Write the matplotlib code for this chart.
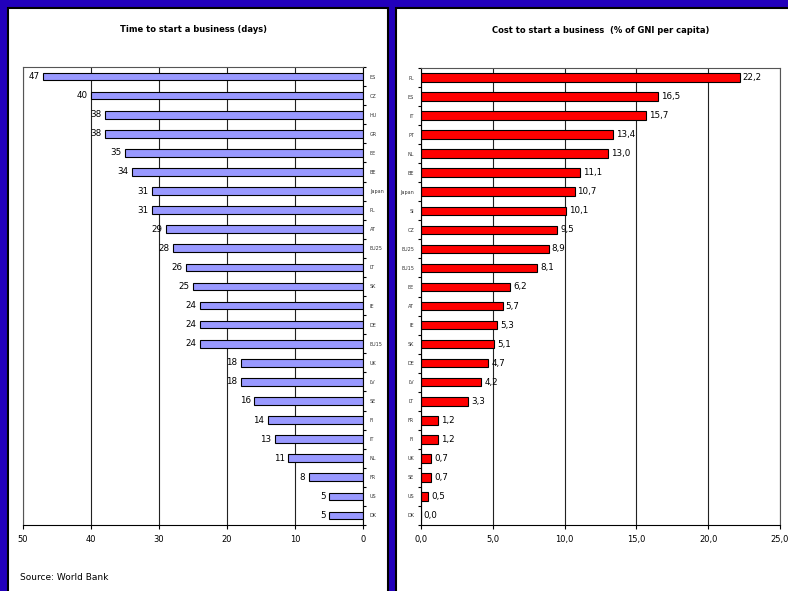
import matplotlib
matplotlib.use('agg')

import matplotlib.pyplot as plt
import numpy as np
from matplotlib.patches import Rectangle

# Days needed to start a business, top to bottom
time_countries = ['ES', 'CZ', 'HU', 'GR', 'EE', 'BE', 'Japan', 'PL', 'AT', 'EU25',
                  'LT', 'SK', 'IE', 'DE', 'EU15', 'UK', 'LV', 'SE', 'FI', 'IT',
                  'NL', 'FR', 'US', 'DK']
time_days = [47, 40, 38, 38, 35, 34, 31, 31, 29, 28,
             26, 25, 24, 24, 24, 18, 18, 16, 14, 13,
             11, 8, 5, 5]

# Cost to start a business, % of GNI per capita, top to bottom
cost_countries = ['PL', 'ES', 'IT', 'PT', 'NL', 'BE', 'Japan', 'SI', 'CZ', 'EU25',
                  'EU15', 'EE', 'AT', 'IE', 'SK', 'DE', 'LV', 'LT', 'FR', 'FI',
                  'UK', 'SE', 'US', 'DK']
cost_pct = [22.2, 16.5, 15.7, 13.4, 13.0, 11.1, 10.7, 10.1, 9.5, 8.9,
            8.1, 6.2, 5.7, 5.3, 5.1, 4.7, 4.2, 3.3, 1.2, 1.2,
            0.7, 0.7, 0.5, 0.0]

time_ticks = [50, 40, 30, 20, 10, 0]
cost_ticks = [0, 5, 10, 15, 20, 25]

W, H = 788, 591
fig = plt.figure(figsize=(W / 100, H / 100), dpi=100)
fig.patch.set_facecolor('#2200bb')

# white panels behind each chart
fig.add_artist(Rectangle((8 / W, -0.05), 380 / W, 1 - 8 / H + 0.05,
                         transform=fig.transFigure, facecolor='white',
                         edgecolor='black', linewidth=1.5, zorder=0))
fig.add_artist(Rectangle((396 / W, -0.05), 400 / W, 1 - 8 / H + 0.05,
                         transform=fig.transFigure, facecolor='white',
                         edgecolor='black', linewidth=1.5, zorder=0))

ax_top = 1 - 67 / H
ax_bot = 1 - 525 / H


def style_axes(ax):
    for s in ax.spines.values():
        s.set_color('#555555')
        s.set_linewidth(0.8)
    ax.tick_params(axis='x', length=3, width=0.8, labelsize=6, pad=4, colors='black')
    ax.tick_params(axis='y', which='major', length=0, labelsize=3.5, colors='#333333')
    ax.tick_params(axis='y', which='minor', length=2.5, width=0.8)
    ax.xaxis.grid(True, color='#222222', linewidth=0.8)
    ax.set_axisbelow(True)


n = len(time_countries)
y = np.arange(n)

# --- left chart: time to start ---
ax1 = fig.add_axes([23 / W, ax_bot, 340 / W, ax_top - ax_bot])
ax1.set_facecolor('none')
ax1.barh(y, time_days, height=0.4, color='#9999ff', edgecolor='black', linewidth=0.8)
ax1.set_xlim(50, 0)
ax1.set_ylim(n - 0.5, -0.5)
ax1.set_xticks(time_ticks)
ax1.set_xticklabels([str(t) for t in time_ticks])
ax1.set_yticks(y)
ax1.set_yticklabels(time_countries)
ax1.set_yticks(np.arange(n + 1) - 0.5, minor=True)
ax1.yaxis.tick_right()
ax1.tick_params(axis='y', which='major', pad=5)
style_axes(ax1)
ax1.spines['right'].set_color('black')
ax1.spines['bottom'].set_color('black')
for yi, v in zip(y, time_days):
    ax1.text(v + 0.5, yi, str(v), ha='right', va='center', fontsize=6.3)
ax1.set_title('Time to start a business (days)', fontsize=6, fontweight='bold', pad=25)

# --- right chart: cost to start ---
ax2 = fig.add_axes([421 / W, ax_bot, 359 / W, ax_top - ax_bot - 1 / H])
ax2.set_facecolor('none')
ax2.barh(y, cost_pct, height=0.45, color='#ff0000', edgecolor='black', linewidth=0.8)
ax2.set_xlim(0, 25)
ax2.set_ylim(n - 0.5, -0.5)
ax2.set_xticks(cost_ticks)
ax2.set_xticklabels([f'{t:.1f}'.replace('.', ',') for t in cost_ticks])
ax2.set_yticks(y)
ax2.set_yticklabels(cost_countries)
ax2.set_yticks(np.arange(n + 1) - 0.5, minor=True)
ax2.tick_params(axis='y', which='major', pad=5)
style_axes(ax2)
ax2.spines['left'].set_color('black')
ax2.spines['bottom'].set_color('black')
for yi, v in zip(y, cost_pct):
    ax2.text(v + 0.2, yi, f'{v:.1f}'.replace('.', ','), ha='left', va='center', fontsize=6.3)
ax2.set_title('Cost to start a business  (% of GNI per capita)', fontsize=6,
              fontweight='bold', pad=25)

fig.text(20 / W, 1 - 577 / H, 'Source: World Bank', fontsize=6.5, va='center')

fig.savefig('out.png', dpi=100, facecolor=fig.get_facecolor())
